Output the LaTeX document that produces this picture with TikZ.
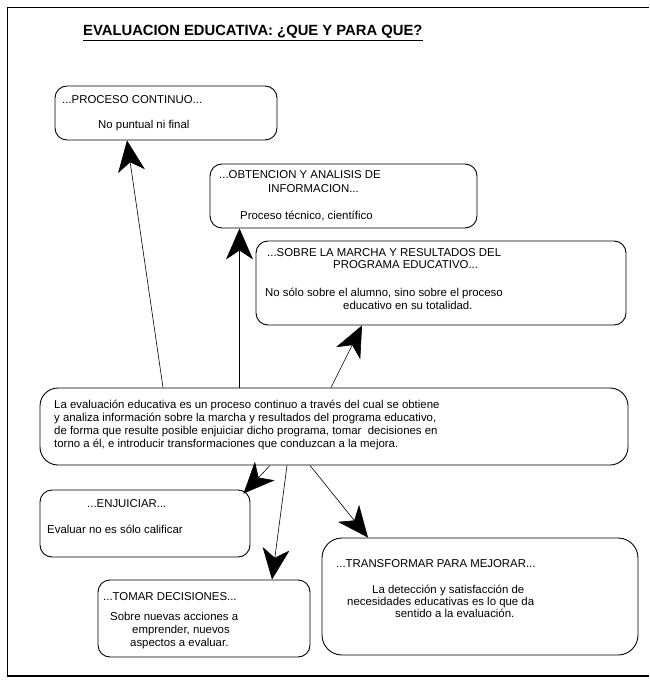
\documentclass[tikz,border=0pt]{standalone}
\usepackage{fontspec}
\setmainfont{Liberation Sans}
\usetikzlibrary{arrows.meta}

\tikzset{
  caja/.style={draw, rounded corners=12pt, line width=0.9pt, inner sep=0pt},
  linea/.style={anchor=base west, inner sep=0pt, font=\fontsize{11.4}{13}\selectfont},
  flecha/.style={-{Stealth[length=31pt,width=27pt,inset=9pt]}, line width=0.6pt},
}

\begin{document}
\begin{tikzpicture}[x=1pt, y=-1pt]
    \useasboundingbox (0,0) rectangle (649,684);
    % marco
    \draw[line width=1pt] (7,676) -- (7,8) -- (649,8);
    \draw[line width=2.2pt] (7,676) -- (649,676);
    \node[anchor=base west, inner sep=0pt, font=\bfseries\fontsize{14.8}{16}\selectfont] (titulo) at (83,36) {\underline{EVALUACION EDUCATIVA: ¿QUE Y PARA QUE?}};
    % cajas
    \node[caja, minimum width=222pt, minimum height=54pt] (proceso) at (166,113) {};
    \node[caja, minimum width=267pt, minimum height=64pt] (obtencion) at (343.5,196) {};
    \node[caja, minimum width=370pt, minimum height=84pt] (sobre) at (441,283) {};
    \node[caja, minimum width=588pt, minimum height=77pt, rounded corners=18pt] (definicion) at (334,426.5) {};
    \node[caja, minimum width=210pt, minimum height=67pt] (enjuiciar) at (145,523.5) {};
    \node[caja, minimum width=212pt, minimum height=77pt] (tomar) at (204,618.5) {};
    \node[caja, minimum width=316pt, minimum height=117pt, rounded corners=20pt] (transformar) at (480,596.5) {};
    % textos
    \node[linea] (p1) at (62,104) {...PROCESO CONTINUO...};
    \node[linea] (p2) at (98,129) {No puntual ni final};
    \node[linea] (o1) at (219,179) {...OBTENCION Y ANALISIS DE};
    \node[linea] (o2) at (268,193) {INFORMACION...};
    \node[linea] (o3) at (240,220) {Proceso técnico, científico};
    \node[linea] (s1) at (267,257) {...SOBRE LA MARCHA Y RESULTADOS DEL};
    \node[linea] (s2) at (333,269) {PROGRAMA EDUCATIVO...};
    \node[linea] (s3) at (265,296) {No sólo sobre el alumno, sino sobre el proceso};
    \node[linea] (s4) at (343,309) {educativo en su totalidad.};
    \node[linea] (d1) at (54,408) {La evaluación educativa es un proceso continuo a través del cual se obtiene};
    \node[linea] (d2) at (54,421) {y analiza información sobre la marcha y resultados del programa educativo,};
    \node[linea] (d3) at (54,434) {de forma que resulte posible enjuiciar dicho programa, tomar\ \ decisiones en};
    \node[linea] (d4) at (54,447) {torno a él, e introducir transformaciones que conduzcan a la mejora.};
    \node[linea] (e1) at (87,507) {...ENJUICIAR...};
    \node[linea] (e2) at (47,533) {Evaluar no es sólo calificar};
    \node[linea] (t1) at (103,600) {...TOMAR DECISIONES...};
    \node[linea] (t2) at (110,620) {Sobre nuevas acciones a};
    \node[linea] (t3) at (132,633) {emprender, nuevos};
    \node[linea] (t4) at (130,646) {aspectos a evaluar.};
    \node[linea] (m1) at (336,567) {...TRANSFORMAR PARA MEJORAR...};
    \node[linea] (m2) at (372,593) {La detección y satisfacción de};
    \node[linea] (m3) at (347,605) {necesidades educativas es lo que da};
    \node[linea] (m4) at (395,617) {sentido a la evaluación.};
    % flechas
    \draw[flecha] ([xshift=-171pt]definicion.north) -- ([xshift=-39pt]proceso.south);
    \draw[flecha] ([xshift=-94.5pt]definicion.north) -- ([xshift=-104pt]obtencion.south);
    \draw[flecha] ([xshift=-3pt]definicion.north) -- ([xshift=-79pt]sobre.south);
    \draw[flecha] ([xshift=-64pt]definicion.south) -- ([xshift=-7pt,yshift=-4pt]enjuiciar.north east);
    \draw[flecha] ([xshift=-47pt]definicion.south) -- ([xshift=68pt]tomar.north);
    \draw[flecha] ([xshift=-24pt]definicion.south) -- ([xshift=-112pt]transformar.north);
\end{tikzpicture}
\end{document}
